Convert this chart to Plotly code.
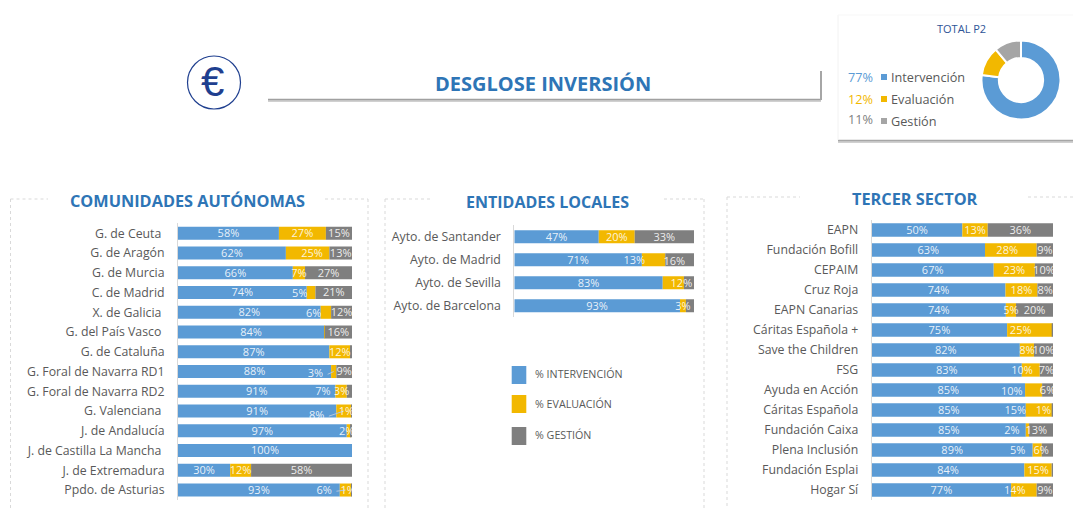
import plotly.graph_objects as go

W, H = 1073, 508
FONT = "Open Sans"
BLUE, YELLOW, GREY, DONUT_GREY = "#5B9BD5", "#F2B800", "#7F7F7F", "#A5A5A5"
TXT = "#595959"
TITLE = "#2E75B6"

# ---- data ----
ca_names = ["G. de Ceuta\u00a0", "G. de Aragón", "G. de Murcia", "C. de Madrid", "X. de Galicia\u00a0",
            "G. del País Vasco\u00a0", "G. de Cataluña", "G. Foral de Navarra RD1", "G. Foral de Navarra RD2",
            "G. Valenciana\u00a0", "J. de Andalucía", "J. de Castilla La Mancha\u00a0", "J. de Extremadura",
            "Ppdo. de Asturias"]
ca_int = [58, 62, 66, 74, 82, 84, 87, 88, 90.5, 91, 97, 100, 30, 93]
ca_eva = [27, 25, 7, 5, 6, 0.3, 12, 3, 6.5, 8.6, 2.4, 0, 12, 6.7]
ca_ges = [15, 13, 27, 21, 12, 15.7, 1, 9, 3, 0.4, 0.6, 0, 58, 0.3]
ca_int_lbl = ["58%", "62%", "66%", "74%", "82%", "84%", "87%", "88%", "91%", "91%", "97%", "100%", "30%", "93%"]
ca_eva_lbl = ["27%", "25%", "7%", "5%", "6%", "", "12%", "3%", "7%", "8%", "2%", "", "12%", "6%"]
ca_ges_lbl = ["15%", "13%", "27%", "21%", "12%", "16%", "", "9%", "3%", "1%", "", "", "58%", "1%"]

el_names = ["Ayto. de Santander", "Ayto. de Madrid", "Ayto. de Sevilla", "Ayto. de Barcelona"]
el_int = [47, 71, 82.6, 92.2]
el_eva = [20, 13, 11.8, 3.3]
el_ges = [33, 16, 5.6, 4.5]
el_int_lbl = ["47%", "71%", "83%", "93%"]
el_eva_lbl = ["20%", "13%", "12%", "3%"]
el_ges_lbl = ["33%", "16%", "", ""]

ts_names = ["EAPN", "Fundación Bofill", "CEPAIM", "Cruz Roja", "EAPN Canarias", "Cáritas Española +",
            "Save the Children", "FSG", "Ayuda en Acción", "Cáritas Española", "Fundación Caixa",
            "Plena Inclusión", "Fundación Esplai", "Hogar Sí"]
ts_int = [50, 62.5, 67.3, 73.8, 74, 74.7, 81.7, 82.8, 84.6, 85, 85, 88.8, 84.2, 76.9]
ts_eva = [14, 28.5, 22.7, 17.6, 5.6, 25, 7.8, 9.9, 9.4, 14.4, 1.8, 5, 15.1, 14.1]
ts_ges = [36, 9, 10, 8.6, 20.4, 0.3, 10.5, 7.3, 6, 0.6, 13.2, 6.2, 0.7, 9]
ts_int_lbl = ["50%", "63%", "67%", "74%", "74%", "75%", "82%", "83%", "85%", "85%", "85%", "89%", "84%", "77%"]
ts_eva_lbl = ["13%", "28%", "23%", "18%", "5%", "25%", "8%", "10%", "10%", "15%", "2%", "5%", "15%", "14%"]
ts_ges_lbl = ["36%", "9%", "10%", "8%", "20%", "", "10%", "7%", "6%", "1%", "13%", "6%", "", "9%"]

total_names = ["Intervención", "Evaluación", "Gestión"]
total_vals = [77, 12, 11]
total_lbl = ["77%", "12%", "11%"]
legend_names = ["% INTERVENCIÓN", "% EVALUACIÓN", "% GESTIÓN"]

# ---- label displacement, (row, series): (x in axis %, y in rows) ----
ca_shift = {(1, 1): (2.5, 0), (3, 1): (-6.5, 0.05), (4, 1): (-7, 0.05), (7, 1): (-10.5, 0.08), (8, 1): (-10.5, 0),
            (8, 2): (-4.5, 0), (9, 1): (-15.6, 0.2), (9, 2): (-3, 0), (10, 1): (-1.3, 0),
            (13, 1): (-12.3, 0), (13, 2): (-2, 0)}
el_shift = {(1, 1): (-10.7, 0), (1, 2): (-3, 0.05), (2, 1): (4.5, 0)}
ts_shift = {(1, 1): (-2, 0), (5, 1): (-5, 0), (7, 1): (-4.8, 0), (8, 1): (-12, 0.05), (9, 1): (-13, 0),
            (9, 2): (-5, 0), (10, 1): (-8.6, 0), (10, 2): (-2.6, 0), (11, 1): (-10.8, 0), (11, 2): (-3.4, 0),
            (13, 1): (-5, 0)}
ca_leaders = [7, 9, 13]


def X(px):
    return px / W


def Y(py):
    return 1 - py / H


fig = go.Figure()
panels = [
    dict(ax="", names=ca_names, v=(ca_int, ca_eva, ca_ges), t=(ca_int_lbl, ca_eva_lbl, ca_ges_lbl), shift=ca_shift,
         dom=(178, 352, 223.4, 499.9), width=0.66, leaders=ca_leaders),
    dict(ax="2", names=el_names, v=(el_int, el_eva, el_ges), t=(el_int_lbl, el_eva_lbl, el_ges_lbl), shift=el_shift,
         dom=(514.3, 694, 225.2, 317.2), width=0.565, leaders=[]),
    dict(ax="3", names=ts_names, v=(ts_int, ts_eva, ts_ges), t=(ts_int_lbl, ts_eva_lbl, ts_ges_lbl), shift=ts_shift,
         dom=(871.7, 1053, 220, 500), width=0.665, leaders=[]),
]
colors = [BLUE, YELLOW, GREY]
series = ["% Intervención", "% Evaluación", "% Gestión"]

for p in panels:
    n = len(p["names"])
    rows = list(range(n))
    xa, ya = "x" + p["ax"], "y" + p["ax"]
    cum = [0.0] * n
    for s in range(3):
        fig.add_trace(go.Bar(y=rows, x=p["v"][s], orientation="h", marker=dict(color=colors[s], line_width=0),
                             width=p["width"], name=series[s], showlegend=False, xaxis=xa, yaxis=ya,
                             base=cum[:]))
        lx, ly = [], []
        for r in rows:
            dx, dy = p["shift"].get((r, s), (0, 0))
            lx.append(cum[r] + p["v"][s][r] / 2 + dx)
            ly.append(r + 0.06 + dy)
        if s == 1:
            for r in p["leaders"]:
                seg = cum[r] + p["v"][s][r] / 2
                fig.add_trace(go.Scatter(x=[lx[r] + 7, seg], y=[ly[r], r], mode="lines", showlegend=False,
                                         line=dict(color="#B4C7DC", width=1), xaxis=xa, yaxis=ya,
                                         hoverinfo="skip"))
        fig.add_trace(go.Scatter(x=lx, y=ly, text=p["t"][s], mode="text", textposition="middle center",
                                 textfont=dict(family=FONT, size=11, color="rgba(255,255,255,0.88)"),
                                 showlegend=False, xaxis=xa, yaxis=ya, cliponaxis=True, hoverinfo="skip"))
        cum = [c + v for c, v in zip(cum, p["v"][s])]
    x0, x1, y0, y1 = p["dom"]
    fig.update_layout({
        "xaxis" + p["ax"]: dict(domain=[X(x0), X(x1)], range=[0, 100], visible=False, anchor=ya, fixedrange=True),
        "yaxis" + p["ax"]: dict(domain=[Y(y1), Y(y0)], range=[n - 0.5, -0.5], anchor=xa, tickmode="array",
                                tickvals=rows, ticktext=p["names"], showgrid=False, zeroline=False,
                                showline=True, linecolor="#D9D9D9", linewidth=1, ticks="", ticklabelstandoff=10,
                                tickfont=dict(family=FONT, size=12.3, color=TXT), fixedrange=True),
    })

fig.add_trace(go.Pie(labels=total_names, values=total_vals, hole=0.56, sort=False, direction="clockwise", rotation=0,
                     marker=dict(colors=[BLUE, YELLOW, DONUT_GREY], line=dict(color="white", width=2)),
                     textinfo="none", showlegend=False,
                     domain=dict(x=[X(981.5), X(1060.5)], y=[Y(119.5), Y(40.5)])))

shapes, ann = [], []


def line(x0, y0, x1, y1, color, width=1, dash=None):
    shapes.append(dict(type="line", xref="paper", yref="paper", x0=X(x0), x1=X(x1), y0=Y(y0), y1=Y(y1),
                       line=dict(color=color, width=width, dash=dash), layer="below"))


def rect(x0, y0, x1, y1, color):
    shapes.append(dict(type="rect", xref="paper", yref="paper", x0=X(x0), x1=X(x1), y0=Y(y0), y1=Y(y1),
                       fillcolor=color, line_width=0, layer="below"))


def text(x, y, s, size, color, anchor="left", bold=False, family=FONT):
    ann.append(dict(xref="paper", yref="paper", x=X(x), y=Y(y), text=f"<b>{s}</b>" if bold else s, showarrow=False,
                    xanchor=anchor, yanchor="middle", borderpad=0, borderwidth=0,
                    font=dict(family=family, size=size, color=color)))


# dashed panel frames
FR = "#D9D9D9"
for seg in [(10.5, 199, 10.5, 508), (10.5, 199, 48, 199), (325, 199, 368, 199), (368, 199, 368, 508),
            (385, 199, 385, 508), (385, 199, 430, 199), (664, 199, 704, 199), (704, 199, 704, 508),
            (727, 197, 727, 508), (727, 197, 800, 197), (1028, 197, 1073, 197)]:
    line(*seg, FR, 1, "3px,3px")

text(187.5, 201, "COMUNIDADES AUTÓNOMAS", 16.3, TITLE, "center", True)
text(547, 202.5, "ENTIDADES LOCALES", 16, TITLE, "center", True)
text(914.5, 199, "TERCER SECTOR", 16.3, TITLE, "center", True)

# header
shapes.append(dict(type="circle", xref="paper", yref="paper", x0=X(187.5), x1=X(240.5), y0=Y(109), y1=Y(56),
                   line=dict(color="#1F3F8F", width=1.2)))
text(212.5, 82, "€", 42, "#1F3F8F", "center", False, "Liberation Sans")
line(268, 101, 821, 101, "#D0D0D0", 2)
line(268, 99.5, 821, 99.5, "#A0A0A0", 1.5)
line(821, 71, 821, 100, "#A6A6A6", 2)
text(543, 83.5, "DESGLOSE INVERSIÓN", 20, TITLE, "center", True)

# total card
line(838, 142, 1073, 142, "#D0D0D0", 2)
line(838, 140.5, 1073, 140.5, "#A6A6A6", 1.5)
line(838, 15, 838, 140, "#F2F2F2", 1)
line(838, 15, 1073, 15, "#F7F7F7", 1)
text(961.5, 28, "TOTAL P2", 11, "#2F5597", "center")
for i, (py, c, pc_c, yl) in enumerate([(77, BLUE, BLUE, 77), (99, YELLOW, YELLOW, 99), (121, DONUT_GREY, GREY, 119)]):
    text(873, yl, total_lbl[i], 12.7, pc_c, "right")
    rect(881, py - 3, 887, py + 3, c)
    text(891, py, total_names[i], 12.7, TXT)

# mid legend
for i, (py0, c, ty) in enumerate([(366, BLUE, 374), (395, YELLOW, 404), (427, GREY, 435)]):
    rect(511.7, py0, 526.3, py0 + 18, c)
    text(535, ty, legend_names[i], 10.7, TXT)

fig.update_layout(width=W, height=H, margin=dict(l=0, r=0, t=0, b=0), barmode="overlay", paper_bgcolor="white",
                  plot_bgcolor="rgba(0,0,0,0)", shapes=shapes, annotations=ann, showlegend=False,
                  font=dict(family=FONT))
fig.write_html("out.html", config=dict(displayModeBar=False),
               post_script="document.body.style.margin='0';document.body.style.overflow='hidden';")
